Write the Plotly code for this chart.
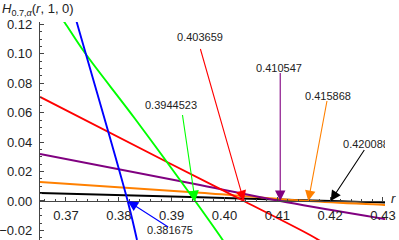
import plotly.graph_objects as go

# ---- data ----
blue_r = [0.3713, 0.37208, 0.381675, 0.38344]
blue_v = [0.131, 0.1209, 0.0, -0.0265]
green_r = [0.3690, 0.36981, 0.37360, 0.38306, 0.3944523, 0.39915, 0.4003]
green_v = [0.125, 0.1209, 0.1005, 0.0559, 0.0, -0.0238, -0.030]
red_r = [0.36508, 0.38912, 0.403659, 0.41619, 0.4185]
red_v = [0.0707, 0.0265, 0.0, -0.0231, -0.028]
purple_r = [0.36508, 0.39536, 0.410547, 0.43019, 0.4305]
purple_v = [0.0319, 0.0109, 0.0, -0.0122, -0.0124]
orange_r = [0.36508, 0.39536, 0.415868, 0.43019, 0.4305]
orange_v = [0.0129, 0.0056, 0.0, -0.0027, -0.0028]
black_r = [0.36508, 0.39536, 0.420088, 0.43019, 0.4305]
black_v = [0.0054, 0.0025, 0.0, -0.0010, -0.0011]

roots = [0.381675, 0.3944523, 0.403659, 0.410547, 0.415868, 0.420088]
root_labels = ["0.381675", "0.3944523", "0.403659", "0.410547", "0.415868", "0.420088"]

x_ticks = [0.37, 0.38, 0.39, 0.40, 0.41, 0.42, 0.43]
y_ticks = [-0.02, 0.00, 0.02, 0.04, 0.06, 0.08, 0.10, 0.12]

BLUE = "#0000ff"
GREEN = "#00ff00"
RED = "#ff0000"
PURPLE = "#800080"
ORANGE = "#ff8000"
BLACK = "#000000"

XMIN, XMAX = 0.36508, 0.43038
YMIN, YMAX = -0.0265, 0.1216

fig = go.Figure()
series = [
    (black_r, black_v, BLACK),
    (orange_r, orange_v, ORANGE),
    (purple_r, purple_v, PURPLE),
    (red_r, red_v, RED),
    (green_r, green_v, GREEN),
    (blue_r, blue_v, BLUE),
]
for xs, ys, c in series:
    fig.add_trace(go.Scatter(x=xs, y=ys, mode="lines", line=dict(color=c, width=1.9),
                             line_shape="spline", hoverinfo="skip", showlegend=False))

# label placement (pixel positions of text centres) and arrow tails (pixel offsets)
def px_to_data(px, py):
    return 0.37 + (px - 66) / 5283.0, (201 - py) / 1472.0

label_px = [(170, 231), (171, 106), (200, 38), (279, 69), (328, 97), (366, 145)]
tail_off = [(42, 27), (-13, -88), (-44, -154), (0, -130), (19, -102), (35, -53)]
colors = [BLUE, GREEN, RED, PURPLE, ORANGE, BLACK]

lx, ly = zip(*[px_to_data(*p) for p in label_px])
fig.add_trace(go.Scatter(x=list(lx), y=list(ly), mode="text", text=root_labels,
                         textfont=dict(family="Liberation Sans", size=11, color="#222"),
                         cliponaxis=True, hoverinfo="skip", showlegend=False))

for rt, (ax, ay), c in zip(roots, tail_off, colors):
    fig.add_annotation(x=rt, y=0, xref="x", yref="y", ax=ax, ay=ay, text=" ",
                       font=dict(size=1), showarrow=True, arrowhead=2, arrowsize=1.9,
                       arrowwidth=1.1, arrowcolor=c, standoff=0, startstandoff=0)

fig.add_annotation(xref="paper", yref="paper", x=-40 / 345, y=1.0, xanchor="left", yanchor="middle",
                   text="<i>H</i><sub>0.7,<i>α</i></sub>(<i>r</i>, 1, 0)", showarrow=False,
                   font=dict(family="Liberation Sans", size=13, color="#222"), yshift=13)
fig.add_annotation(x=1.0, y=0, xref="paper", yref="y", xanchor="left", yanchor="middle",
                   text="<i>r</i>", showarrow=False, xshift=4, yshift=2,
                   font=dict(family="Liberation Sans", size=13, color="#222"))

fig.update_layout(
    width=399, height=240, margin=dict(l=40, r=14, t=22, b=0),
    plot_bgcolor="white", paper_bgcolor="white",
    xaxis=dict(range=[XMIN, XMAX], tickvals=x_ticks, tickformat=".2f", ticks="inside", ticklen=4,
               tickcolor="#444", showline=True, linecolor="#444", linewidth=1.2, showgrid=False,
               zeroline=False, anchor="free", position=(0 - YMIN) / (YMAX - YMIN),
               automargin=False, ticklabelstandoff=2,
               tickfont=dict(family="Liberation Sans", size=13, color="#222"),
               minor=dict(ticks="inside", ticklen=2, dtick=0.002, tick0=0.37, tickcolor="#444")),
    yaxis=dict(range=[YMIN, YMAX], tickvals=y_ticks, tickformat=".2f", ticks="inside", ticklen=4,
               tickcolor="#444", showline=True, linecolor="#444", linewidth=1.2, showgrid=False,
               zeroline=False, ticklabelstandoff=4, automargin=False,
               tickfont=dict(family="Liberation Sans", size=13, color="#222"),
               minor=dict(ticks="inside", ticklen=2, dtick=0.005, tick0=0, tickcolor="#444")),
)

fig.write_html("out.html", config={"displayModeBar": False, "staticPlot": True},
               post_script="document.body.style.margin='0';document.body.style.padding='0';"
                           "document.body.style.overflow='hidden';")
